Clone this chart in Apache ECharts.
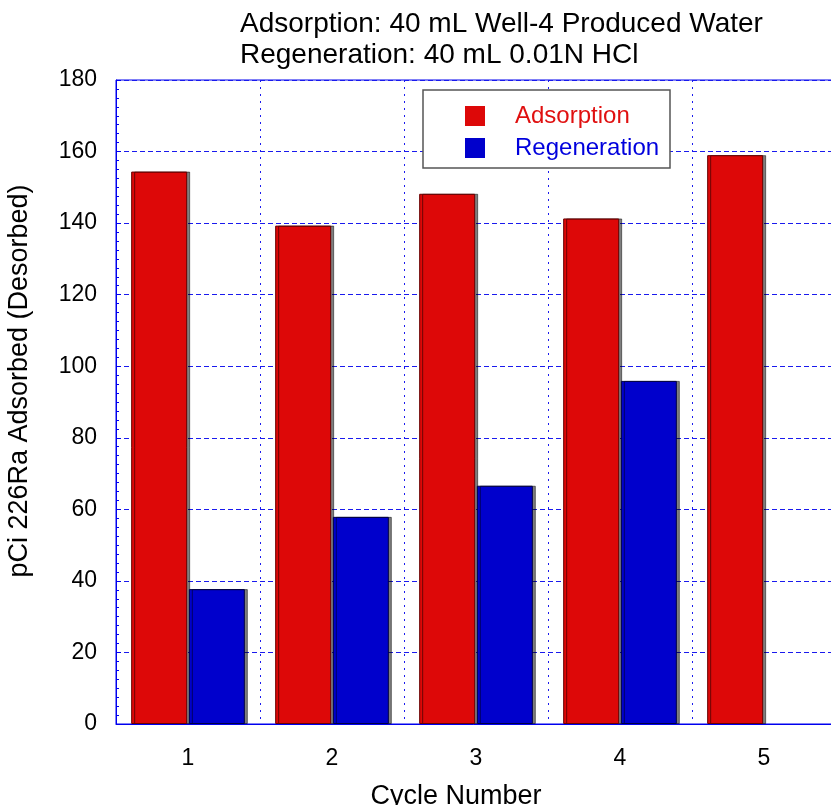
<!DOCTYPE html>
<html>
<head>
<meta charset="utf-8">
<style>
  html, body { margin: 0; padding: 0; background: #fff; }
  #chart { width: 831px; height: 805px; }
</style>
<script src="https://cdn.jsdelivr.net/npm/echarts@6/dist/echarts.min.js"></script>
</head>
<body>
<div id="chart"></div>
<script>
// Ra-226 activity per cycle (pCi)
const cycles = ['1', '2', '3', '4', '5'];
const adsorption = [154.4, 139.3, 148.2, 141.3, 159.0];
const regeneration = [37.7, 57.9, 66.6, 95.9, null];
const seriesNames = ['Adsorption', 'Regeneration'];
const titleLines = ['Adsorption: 40 mL Well-4 Produced Water', 'Regeneration: 40 mL 0.01N HCl'];
const yMin = 0, yMax = 180, yStep = 20;

const FONT = '"Liberation Sans", Arial, Helvetica, sans-serif';
const RED = '#dd0808';
const BLUE = '#0000cc';
const GRID_BLUE = '#1a1aee';

const chart = echarts.init(document.getElementById('chart'), null, { renderer: 'canvas' });

function barStyle(color, edge) {
  return {
    color: color,
    borderColor: edge,
    borderWidth: 1,
    shadowColor: 'rgba(0,0,0,0.5)',
    shadowBlur: 0,
    shadowOffsetX: 3,
    shadowOffsetY: 0
  };
}

chart.setOption({
  backgroundColor: '#ffffff',
  animation: false,
  textStyle: { fontFamily: FONT },
  title: {
    text: titleLines.join('\n'),
    left: 240,
    top: 9,
    padding: 0,
    textStyle: { fontFamily: FONT, fontSize: 28, fontWeight: 'normal', color: '#000', lineHeight: 31 }
  },
  graphic: [{
    type: 'rect',
    z: 5,
    shape: { x: 423, y: 90, width: 247, height: 78 },
    style: { fill: '#ffffff', stroke: '#555555', lineWidth: 1.5 }
  }],
  legend: {
    orient: 'vertical',
    left: 465,
    top: 104,
    padding: 0,
    z: 6,
    itemWidth: 20,
    itemHeight: 20,
    itemGap: 8,
    icon: 'rect',
    itemStyle: { borderWidth: 0, shadowBlur: 0, shadowOffsetX: 0, shadowOffsetY: 0 },
    textStyle: { fontFamily: FONT, fontSize: 24, padding: [0, 0, 0, 25] },
    data: [
      { name: seriesNames[0], textStyle: { color: '#e01010' } },
      { name: seriesNames[1], textStyle: { color: '#0000dd' } }
    ]
  },
  grid: {
    left: 116,
    top: 80,
    right: -5,
    bottom: 81,
    outerBoundsMode: 'none',
    containLabel: false,
    show: true,
    borderColor: '#0000ee',
    borderWidth: 1,
    backgroundColor: 'transparent'
  },
  xAxis: {
    type: 'category',
    data: cycles,
    name: 'Cycle Number',
    nameLocation: 'middle',
    nameGap: 59,
    nameTextStyle: { fontFamily: FONT, fontSize: 27, color: '#000', padding: [0, 40, 0, 0] },
    axisLine: { show: true, lineStyle: { color: '#0000ee', width: 1 } },
    axisTick: { show: false },
    axisLabel: { fontFamily: FONT, fontSize: 23, color: '#000', margin: 23 },
    splitLine: { show: true, lineStyle: { color: GRID_BLUE, width: 1, type: [2, 5] } }
  },
  yAxis: {
    type: 'value',
    min: yMin,
    max: yMax,
    interval: yStep,
    name: 'pCi 226Ra Adsorbed (Desorbed)',
    nameLocation: 'middle',
    nameGap: 83,
    nameRotate: 90,
    nameTextStyle: { fontFamily: FONT, fontSize: 27, color: '#000', padding: [0, 0, 0, 42] },
    axisLine: { show: true, lineStyle: { color: '#0000ee', width: 1 } },
    axisTick: { show: true, inside: true, length: 5, lineStyle: { color: '#0000ee' } },
    minorTick: { show: true, splitNumber: 8, length: 3, lineStyle: { color: '#0000ee' } },
    axisLabel: { fontFamily: FONT, fontSize: 23, color: '#000', margin: 19 },
    splitLine: { show: true, lineStyle: { color: GRID_BLUE, width: 1, type: [5, 3] } }
  },
  series: [
    {
      name: seriesNames[0],
      type: 'bar',
      data: adsorption,
      barWidth: 56,
      barGap: '3%',
      itemStyle: barStyle(RED, '#6a0000')
    },
    {
      name: seriesNames[1],
      type: 'bar',
      data: regeneration,
      barWidth: 56,
      barGap: '3%',
      itemStyle: barStyle(BLUE, '#000044')
    }
  ]
});
</script>
</body>
</html>
